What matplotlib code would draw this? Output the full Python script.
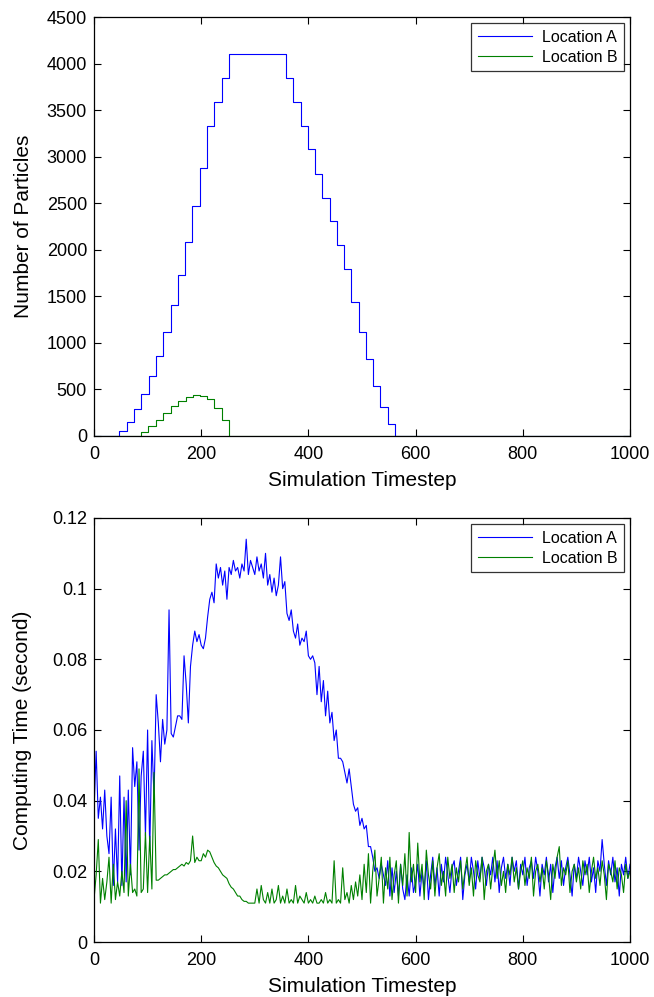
import numpy as np
import matplotlib
matplotlib.use("Agg")
import matplotlib.pyplot as plt
from matplotlib.ticker import FuncFormatter

plt.rcParams['font.family'] = ['Liberation Sans', 'DejaVu Sans']

# ---------------- Top panel: number of particles (step levels) ----------------
# timesteps where Location A changes level, and the level reached
a_step_t = [0, 47, 61, 75, 88, 102, 116, 129, 143, 156, 170, 183, 197, 210, 224, 238, 252,
            358, 371, 386, 399, 412, 426, 440, 453, 466, 480, 494, 507, 521, 534, 548, 562, 1000]
a_step_n = [0, 57, 152, 287, 447, 642, 862, 1121, 1411, 1730, 2085, 2468, 2883, 3330, 3592, 3844, 4099,
            3844, 3592, 3330, 3078, 2819, 2560, 2305, 2050, 1794, 1440, 1121, 830, 535, 309, 128, 0, 0]
b_step_t = [0, 88, 101, 116, 129, 143, 157, 171, 184, 197, 210, 224, 238, 252, 1000]
b_step_n = [0, 39, 110, 174, 252, 323, 376, 422, 440, 429, 394, 305, 174, 0, 0]

# ---------------- Bottom panel: computing time (ms), every 4 timesteps ----------------
time_step = 4
comp_a_ms = [
    37, 54, 35, 41, 32, 43, 30, 25, 41, 16, 32, 17, 47, 16, 41, 17, 43, 19, 55, 44, 51, 26, 47, 54, 30,
    60, 26, 57, 41, 70, 62, 51, 63, 56, 60, 94, 59, 58, 61, 64, 64, 63, 81, 73, 62, 78, 84, 88, 85, 87,
    84, 83, 86, 92, 97, 99, 96, 107, 103, 106, 101, 105, 97, 106, 104, 108, 105, 106, 103, 107, 105, 114, 104, 108, 106,
    104, 109, 105, 107, 103, 110, 101, 104, 99, 103, 98, 101, 109, 100, 102, 93, 91, 94, 88, 86, 90, 84, 86, 85, 88,
    81, 80, 81, 79, 70, 78, 68, 74, 64, 71, 62, 65, 57, 60, 52, 52, 51, 48, 45, 49, 44, 39, 37, 38, 33,
    35, 32, 33, 27, 27, 24, 20, 21, 18, 22, 19, 16, 23, 13, 21, 14, 20, 13, 22, 15, 12, 19, 13, 21, 14,
    17, 22, 13, 20, 15, 23, 12, 19, 24, 16, 21, 13, 22, 17, 24, 19, 14, 21, 23, 16, 20, 24, 12, 19, 22,
    17, 24, 20, 15, 23, 18, 24, 21, 16, 22, 19, 24, 17, 23, 14, 21, 24, 18, 22, 16, 24, 20, 23, 15, 22,
    19, 24, 16, 21, 23, 18, 24, 20, 13, 22, 19, 24, 17, 22, 14, 21, 24, 18, 23, 16, 21, 24, 19, 13, 22,
    18, 24, 20, 16, 23, 19, 24, 17, 21, 14, 23, 20, 29, 22, 16, 23, 19, 24, 17, 21, 13, 22, 19, 24, 18,
    22]
comp_b_ms = [
    12, 19, 29, 11, 18, 12, 17, 24, 11, 22, 12, 17, 13, 20, 14, 40, 13, 22, 14, 15, 13, 49, 14, 15, 31,
    14, 30, 15, 48, 17.5, 17.5, 18, 18.5, 19, 19, 19.5, 20, 20.5, 20.5, 21, 21.5, 22, 21.5, 22.5, 22, 23, 30, 22.5, 24, 23,
    23, 25, 24, 26, 25.5, 24, 22.5, 21.5, 21, 20, 19, 18.5, 18, 16.5, 15.5, 15, 14, 13, 13, 12, 11.5, 11.5, 11, 11, 11,
    11, 15, 11, 16, 12, 11, 14, 11, 15, 11, 12, 16, 11, 13, 11, 15, 11, 12, 11, 16, 11, 13, 12, 11, 14,
    11, 12, 11, 13, 11, 11, 12, 11, 14, 11, 12, 11, 23, 11, 12, 11, 21, 12, 14, 11, 16, 12, 17, 13, 19,
    12, 22, 14, 25, 11, 20, 26, 13, 18, 24, 11, 21, 15, 24, 12, 19, 23, 11, 22, 16, 25, 13, 31, 17, 22,
    14, 28, 17, 22, 12, 26, 19, 15, 23, 13, 21, 25, 16, 20, 13, 24, 18, 22, 14, 21, 17, 23, 15, 20, 24,
    16, 21, 13, 23, 19, 17, 24, 12, 20, 22, 15, 21, 26, 18, 23, 16, 20, 14, 22, 19, 24, 17, 21, 15, 20,
    23, 16, 21, 18, 24, 13, 20, 22, 17, 21, 15, 23, 19, 12, 22, 18, 24, 27, 16, 21, 19, 23, 14, 20, 22,
    17, 21, 15, 23, 19, 22, 14, 20, 24, 18, 21, 16, 23, 19, 12, 22, 20, 17, 23, 15, 21, 19, 14, 22, 18,
    20]

series_names = ["Location A", "Location B"]
x_ticks = [0, 200, 400, 600, 800, 1000]
top_yticks = list(range(0, 4501, 500))
bot_yticks = [0, 0.02, 0.04, 0.06, 0.08, 0.1, 0.12]

BLUE = (0, 0, 1)
GREEN = (0, 0.5, 0)

fig = plt.figure(figsize=(6.54, 9.97), dpi=100)
ax1 = fig.add_axes([94/654, 1-436/997, 536/654, 419/997])
ax2 = fig.add_axes([94/654, 1-942/997, 536/654, 424/997])

ax1.plot(a_step_t, a_step_n, drawstyle='steps-post', color=BLUE, lw=0.8, label=series_names[0])
ax1.plot(b_step_t, b_step_n, drawstyle='steps-post', color=GREEN, lw=0.8, label=series_names[1])
ax1.set_xlim(0, 1000)
ax1.set_ylim(0, 4500)
ax1.set_yticks(top_yticks)
ax1.set_ylabel("Number of Particles", fontsize=15, labelpad=10)

ta = np.arange(len(comp_a_ms)) * time_step
tb = np.arange(len(comp_b_ms)) * time_step
ax2.plot(ta, np.array(comp_a_ms) / 1000.0, color=BLUE, lw=0.8, label=series_names[0])
ax2.plot(tb, np.array(comp_b_ms) / 1000.0, color=GREEN, lw=0.8, label=series_names[1])
ax2.set_xlim(0, 1000)
ax2.set_ylim(0, 0.12)
ax2.set_yticks(bot_yticks)
ax2.yaxis.set_major_formatter(FuncFormatter(lambda v, p: "%g" % round(v, 4)))
ax2.set_ylabel("Computing Time (second)", fontsize=15, labelpad=14)

for ax in (ax1, ax2):
    ax.set_xticks(x_ticks)
    ax.set_xlabel("Simulation Timestep", fontsize=15, labelpad=6)
    ax.tick_params(direction='in', top=True, right=True, labelsize=13, length=5, width=0.8)
    ax.tick_params(axis='x', pad=7)
    ax.tick_params(axis='y', pad=5)
    for s in ax.spines.values():
        s.set_linewidth(0.9)
    leg = ax.legend(loc='upper right', fontsize=11.5, handlelength=3.4, fancybox=False,
                    frameon=True, edgecolor='black', borderpad=0.4, labelspacing=0.3,
                    handletextpad=0.6, borderaxespad=0.4)
    leg.get_frame().set_linewidth(0.9)

fig.savefig("out.png", dpi=100)
